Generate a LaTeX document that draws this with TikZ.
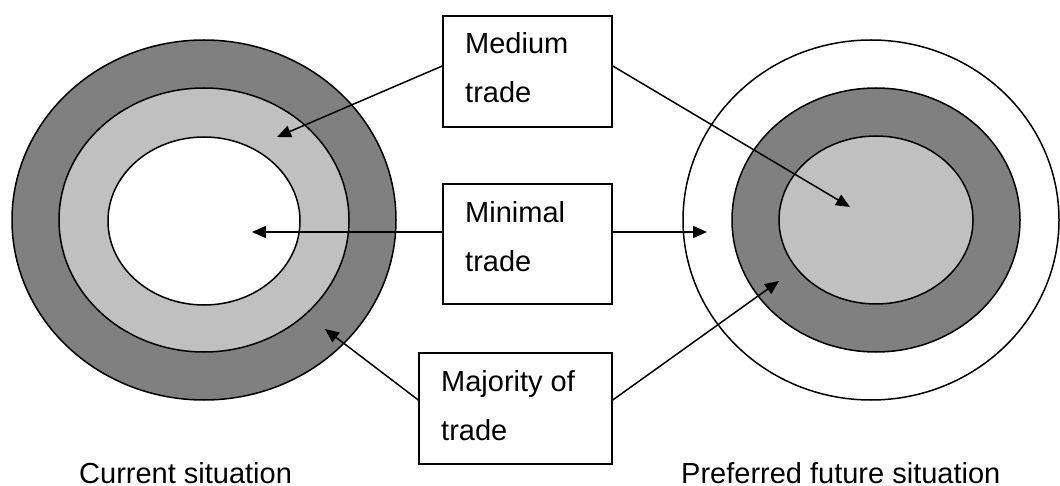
\documentclass[tikz,border=0pt]{standalone}
\usepackage{fontspec}
\setmainfont{Liberation Sans}
\usetikzlibrary{shapes.geometric,arrows.meta}
\definecolor{ringdark}{RGB}{128,128,128}
\definecolor{ringlight}{RGB}{192,192,192}
\begin{document}
\begin{tikzpicture}[x=1pt,y=-1pt,
  ring/.style={ellipse,draw=black,line width=1.5pt,inner sep=0pt},
  tradebox/.style={rectangle,draw=black,line width=1.5pt,fill=white,inner sep=0pt},
  boxtext/.style={anchor=base west,inner sep=0pt,align=left,font=\fontsize{29}{49}\selectfont},
  caption/.style={anchor=base west,inner sep=0pt,font=\fontsize{29}{35}\selectfont},
  pointer/.style={line width=1.5pt,-{Triangle[length=14pt,width=12pt]}}]
\useasboundingbox (0,0) rectangle (1060,486);
% current situation: three nested rings
\node[ring,fill=ringdark,minimum width=384pt,minimum height=360pt] (curout) at (204,220) {};
\node[ring,fill=ringlight,minimum width=290pt,minimum height=264pt] (curmid) at (204,220) {};
\node[ring,fill=white,minimum width=192pt,minimum height=168pt] (curin) at (204,221) {};
% preferred future situation
\node[ring,fill=white,minimum width=376pt,minimum height=360pt] (futout) at (871,220) {};
\node[ring,fill=ringdark,minimum width=288pt,minimum height=264pt] (futmid) at (876,220) {};
\node[ring,fill=ringlight,minimum width=194pt,minimum height=168pt] (futin) at (876,220) {};
% arrow targets inside the rings
\coordinate (curmidpt) at (277,137);
\coordinate (curinpt) at (252,232);
\coordinate (curoutpt) at (325,329);
\coordinate (futinpt) at (850,207);
\coordinate (futoutpt) at (707,232);
\coordinate (futmidpt) at (779,281);
% label boxes
\node[tradebox,minimum width=169pt,minimum height=111pt] (medium) at (527.5,71.5) {};
\node[tradebox,minimum width=169pt,minimum height=120pt] (minimal) at (527.5,244) {};
\node[tradebox,minimum width=193pt,minimum height=111pt] (majority) at (515.5,408.5) {};
% box texts (anchored on the baseline of their last line)
\node[boxtext] (mediumtxt) at (465,103) {Medium\\trade};
\node[boxtext] (minimaltxt) at (465,272) {Minimal\\trade};
\node[boxtext] (majoritytxt) at (441,440) {Majority of\\trade};
% connectors
\draw[pointer] ([yshift=5.5pt]medium.west) -- (curmidpt);
\draw[pointer] ([yshift=5.5pt]medium.east) -- (futinpt);
\draw[pointer] ([yshift=12pt]minimal.west) -- (curinpt);
\draw[pointer] ([yshift=12pt]minimal.east) -- (futoutpt);
\draw[pointer] ([yshift=8.5pt]majority.west) -- (curoutpt);
\draw[pointer] ([yshift=8.5pt]majority.east) -- (futmidpt);
% captions
\node[caption] (curcap) at (79,483) {Current situation};
\node[caption] (futcap) at (681,483) {Preferred future situation};
\end{tikzpicture}
\end{document}
